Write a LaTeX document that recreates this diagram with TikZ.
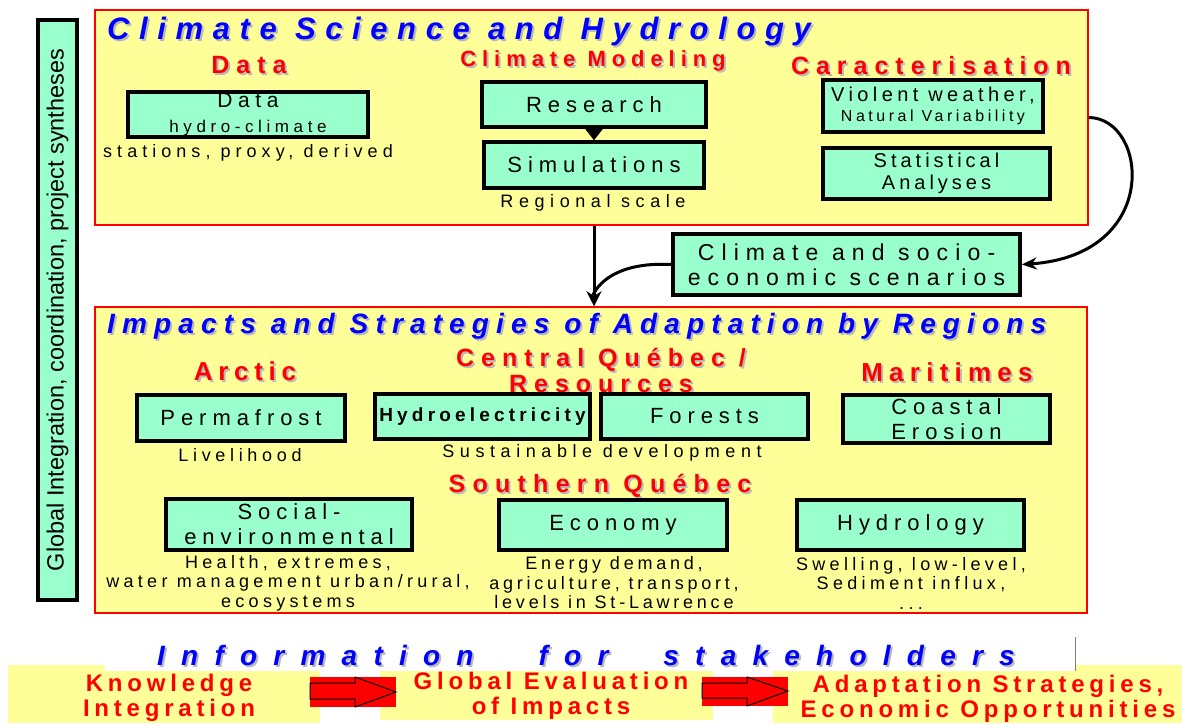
\documentclass[tikz,border=0pt]{standalone}
\usepackage{fontspec}
\setmainfont{Liberation Sans}
\usetikzlibrary{arrows.meta}
\definecolor{paleyellow}{HTML}{FFFF99}
\definecolor{mint}{HTML}{99FFCC}
\definecolor{shadowgray}{HTML}{B8B8B8}
\newcommand\fsz[2]{\fontsize{#1}{#2}\selectfont}
\newcommand\shadowed[1]{\makebox[0pt][l]{\hspace{2pt}\raisebox{-2pt}{\textcolor{shadowgray}{#1}}}#1}

\begin{document}
\begin{tikzpicture}[x=1pt,y=-1pt,
            regionframe/.style={draw=red,line width=1.5pt,fill=paleyellow},
            box/.style={draw,line width=3.5pt,fill=mint,inner sep=0pt,align=center,font=\fsz{22}{25}\addfontfeatures{LetterSpace=27}},
            title/.style={text=blue,anchor=base west,inner sep=0pt,font=\fsz{31}{31}\bfseries\itshape\addfontfeatures{LetterSpace=31}},
            head/.style={text=red,align=center,inner sep=0pt,font=\fsz{25}{26}\bfseries\addfontfeatures{LetterSpace=28}},
            note/.style={align=center,inner sep=0pt,font=\fsz{18}{19.5}\addfontfeatures{LetterSpace=26}},
            stakebox/.style={fill=paleyellow,inner sep=0pt},
            staketext/.style={text=red,align=center,inner sep=0pt,font=\fsz{24}{25.5}\bfseries\addfontfeatures{LetterSpace=20}},
            thickline/.style={line width=3pt}]
            \useasboundingbox (0,0) rectangle (1182,723);
            \node (globalbox) at (57.5,310) [box,rotate=90,minimum width=580pt,minimum height=39pt,font=\fsz{23.5}{23.5}] {Global Integration, coordination, project syntheses};
            \node (climframe) at (591.5,117.5) [regionframe,minimum width=993pt,minimum height=215pt] {};
            \node (regframe) at (591,460) [regionframe,minimum width=992pt,minimum height=306pt] {};
            \node (climtitle) at (107,39) [title] {\shadowed{Climate Science and Hydrology}};
            \node (datahead) at (249,66) [head] {\shadowed{Data}};
            \node (modelhead) at (593,62) [head,font=\fsz{22}{24}\bfseries\addfontfeatures{LetterSpace=27}] {\shadowed{Climate Modeling}};
            \node (carachead) at (931,67) [head] {\shadowed{Caracterisation}};
            \node (databox) at (248,114.5) [box,minimum width=240pt,minimum height=45pt] {\fsz{21}{24}Data\\\fsz{17}{24}hydro-climate};
            \node (datanote) at (248,153) [note,font=\fsz{18}{19.5}\addfontfeatures{LetterSpace=28}] {stations, proxy, derived};
            \node (research) at (594,104.5) [box,minimum width=224pt,minimum height=45pt] {Research};
            \node (simul) at (594,165) [box,minimum width=220pt,minimum height=46pt] {Simulations};
            \node (simulnote) at (593,203) [note,font=\fsz{18}{19.5}\addfontfeatures{LetterSpace=31}] {Regional scale};
            \node (violent) at (933,106) [box,minimum width=220pt,minimum height=52pt,font=\fsz{20}{20}\addfontfeatures{LetterSpace=22}] {Violent weather,\\\fsz{16}{20}Natural Variability};
            \node (stats) at (936.5,173.5) [box,minimum width=227pt,minimum height=51pt,font=\fsz{20}{22}\addfontfeatures{LetterSpace=20}] {Statistical\\Analyses};
            \node (scenario) at (846.5,264.5) [box,minimum width=347pt,minimum height=61pt,font=\fsz{23}{25}\addfontfeatures{LetterSpace=31}] {Climate and socio-\\economic scenarios};
            \coordinate (joinpt) at (592,297);
            \draw[line width=1pt,-{Triangle[length=13pt,width=20pt]}] (research) -- (simul);
            \draw[thickline] (scenario.west) .. controls (625,262) and (600,278) .. (joinpt);
            \draw[thickline,-{Stealth[length=15pt,width=15pt]}] (simul |- climframe.south) -- (simul |- regframe.north);
            \draw[thickline,-{Stealth[length=15pt,width=12pt]}] (climframe.east) .. controls (1148,118) and (1162,255) .. (scenario.east);
            \node (regtitle) at (107,333) [title,font=\fsz{28}{28}\bfseries\itshape\addfontfeatures{LetterSpace=25.5}] {\shadowed{Impacts and Strategies of Adaptation by Regions}};
            \node (arctichead) at (245,372) [head,font=\fsz{26}{26}\bfseries\addfontfeatures{LetterSpace=22}] {\shadowed{Arctic}};
            \node (centralhead) at (601,371) [head] {\shadowed{Central Québec /}\\\shadowed{Resources}};
            \node (maritimehead) at (947,373) [head,font=\fsz{26}{26}\bfseries\addfontfeatures{LetterSpace=24}] {\shadowed{Maritimes}};
            \node (permafrost) at (241,418) [box,minimum width=208pt,minimum height=46pt] {Permafrost};
            \node (permanote) at (240,455) [note] {Livelihood};
            \node (hydroelec) at (482.5,416.5) [box,minimum width=215pt,minimum height=45pt,font=\fsz{19}{22}\bfseries\addfontfeatures{LetterSpace=22}] {Hydroelectricity};
            \node (forests) at (704.5,416.5) [box,minimum width=207pt,minimum height=45pt] {Forests};
            \node (centralnote) at (602,453) [note,font=\fsz{18}{19.5}\addfontfeatures{LetterSpace=31}] {Sustainable development};
            \node (coastal) at (946.5,419) [box,minimum width=207pt,minimum height=48pt] {Coastal\\Erosion};
            \node (southhead) at (600,487) [head,font=\fsz{25}{26}\bfseries\addfontfeatures{LetterSpace=29}] {\shadowed{Southern Québec}};
            \node (social) at (289,524.5) [box,minimum width=246pt,minimum height=51pt] {Social-\\environmental};
            \node (socialnote) at (288,583) [note,font=\fsz{18}{19.5}\addfontfeatures{LetterSpace=24}] {Health, extremes,\\water management urban/rural,\\ecosystems};
            \node (economy) at (613,525) [box,minimum width=228pt,minimum height=50pt] {Economy};
            \node (economynote) at (614,583) [note,font=\fsz{18}{19.5}\addfontfeatures{LetterSpace=21}] {Energy demand,\\agriculture, transport,\\levels in St-Lawrence};
            \node (hydrology) at (910.5,525) [box,minimum width=227pt,minimum height=50pt] {Hydrology};
            \node (hydrologynote) at (911,583) [note,font=\fsz{18}{19.5}\addfontfeatures{LetterSpace=24}] {Swelling, low-level,\\Sediment influx,\\...};
            \node (knowbox) at (164,694) [stakebox,minimum width=312pt,minimum height=58pt] {};
            \node (evalbox) at (546.5,695) [stakebox,minimum width=333pt,minimum height=50pt] {};
            \node (adaptbox) at (977.5,694) [stakebox,minimum width=409pt,minimum height=58pt] {};
            \node (knowtext) at (169,698) [staketext] {Knowledge\\Integration};
            \node (evaltext) at (551,696) [staketext] {Global Evaluation\\of Impacts};
            \node (adapttext) at (988,699) [staketext] {Adaptation Strategies,\\Economic Opportunities};
            \node (infobar) at (590,654) [fill=white,minimum width=970pt,minimum height=34pt,inner sep=0pt] {};
            \draw[gray] (infobar.north east) -- (infobar.south east);
            \node (infotitle) at (157,665) [title,font=\fsz{28}{28}\bfseries\itshape\addfontfeatures{LetterSpace=58}] {\shadowed{Information\hspace{65pt}for\hspace{55pt}stakeholders}};
            \fill[red] (310,677) rectangle (396,707);
            \draw[line width=1pt] (310,683) -- (355,683) -- (355,677) -- (396,692) -- (355,707) -- (355,699) -- (310,699) -- cycle;
            \fill[red] (702,677) rectangle (788,706);
            \draw[line width=1pt] (702,683) -- (747,683) -- (747,677) -- (788,691) -- (747,706) -- (747,698) -- (702,698) -- cycle;
        \end{tikzpicture}
\end{document}
